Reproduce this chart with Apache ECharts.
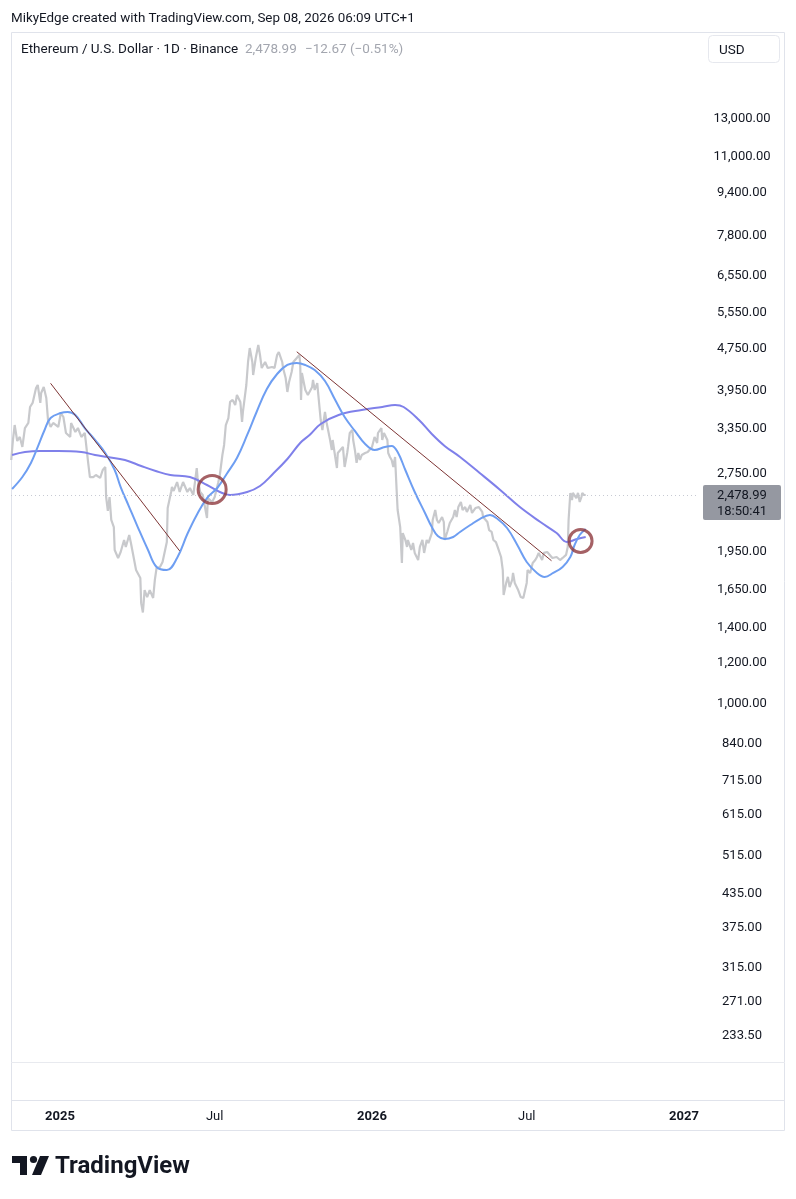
<!DOCTYPE html>
<html><head><meta charset="utf-8">
<script src="https://cdn.jsdelivr.net/npm/echarts@6/dist/echarts.min.js"></script>
<style>html,body{margin:0;padding:0;background:#fff}#c{width:796px;height:1199px}</style>
</head><body><div id="c"></div><script>
const priceDates = ['2024-11-05','2024-11-07','2024-11-09','2024-11-12','2024-11-15','2024-11-18','2024-11-21','2024-11-25','2024-11-27','2024-11-30','2024-12-04','2024-12-06','2024-12-09','2024-12-10','2024-12-13','2024-12-16','2024-12-18','2024-12-21','2024-12-24','2024-12-30','2025-01-02','2025-01-05','2025-01-08','2025-01-13','2025-01-14','2025-01-19','2025-01-22','2025-01-26','2025-01-30','2025-01-31','2025-02-03','2025-02-05','2025-02-09','2025-02-12','2025-02-17','2025-02-20','2025-02-23','2025-02-24','2025-02-26','2025-02-28','2025-03-02','2025-03-05','2025-03-06','2025-03-10','2025-03-13','2025-03-17','2025-03-19','2025-03-23','2025-03-25','2025-03-27','2025-03-31','2025-04-05','2025-04-06','2025-04-08','2025-04-10','2025-04-13','2025-04-16','2025-04-20','2025-04-22','2025-04-24','2025-04-28','2025-05-01','2025-05-06','2025-05-07','2025-05-11','2025-05-12','2025-05-14','2025-05-18','2025-05-21','2025-05-25','2025-05-30','2025-06-02','2025-06-06','2025-06-10','2025-06-11','2025-06-14','2025-06-17','2025-06-22','2025-06-23','2025-06-28','2025-07-01','2025-07-05','2025-07-07','2025-07-10','2025-07-12','2025-07-14','2025-07-17','2025-07-19','2025-07-22','2025-07-25','2025-07-27','2025-07-31','2025-08-02','2025-08-03','2025-08-07','2025-08-09','2025-08-11','2025-08-14','2025-08-15','2025-08-18','2025-08-21','2025-08-23','2025-08-25','2025-08-29','2025-09-01','2025-09-06','2025-09-09','2025-09-12','2025-09-14','2025-09-18','2025-09-19','2025-09-22','2025-09-24','2025-09-26','2025-09-29','2025-10-01','2025-10-05','2025-10-08','2025-10-09','2025-10-10','2025-10-11','2025-10-15','2025-10-18','2025-10-23','2025-10-24','2025-10-26','2025-10-29','2025-10-30','2025-11-02','2025-11-04','2025-11-07','2025-11-09','2025-11-13','2025-11-15','2025-11-16','2025-11-19','2025-11-21','2025-11-22','2025-11-25','2025-11-28','2025-11-30','2025-12-03','2025-12-04','2025-12-06','2025-12-09','2025-12-10','2025-12-12','2025-12-14','2025-12-16','2025-12-18','2025-12-20','2025-12-24','2025-12-27','2026-01-01','2026-01-04','2026-01-07','2026-01-08','2026-01-12','2026-01-13','2026-01-15','2026-01-19','2026-01-20','2026-01-22','2026-01-24','2026-01-26','2026-01-28','2026-01-30','2026-01-31','2026-02-03','2026-02-05','2026-02-06','2026-02-09','2026-02-11','2026-02-12','2026-02-16','2026-02-18','2026-02-20','2026-02-24','2026-02-26','2026-03-01','2026-03-03','2026-03-06','2026-03-08','2026-03-12','2026-03-13','2026-03-16','2026-03-18','2026-03-20','2026-03-24','2026-03-26','2026-03-27','2026-03-30','2026-04-02','2026-04-06','2026-04-08','2026-04-10','2026-04-12','2026-04-15','2026-04-17','2026-04-20','2026-04-22','2026-04-26','2026-04-28','2026-05-02','2026-05-04','2026-05-06','2026-05-10','2026-05-11','2026-05-16','2026-05-18','2026-05-21','2026-05-23','2026-05-26','2026-05-28','2026-06-01','2026-06-03','2026-06-04','2026-06-07','2026-06-09','2026-06-11','2026-06-14','2026-06-15','2026-06-17','2026-06-21','2026-06-24','2026-06-27','2026-06-29','2026-07-01','2026-07-02','2026-07-05','2026-07-08','2026-07-11','2026-07-13','2026-07-15','2026-07-19','2026-07-21','2026-07-25','2026-07-27','2026-07-31','2026-08-02','2026-08-05','2026-08-09','2026-08-12','2026-08-16','2026-08-18','2026-08-19','2026-08-21','2026-08-23','2026-08-24','2026-08-28','2026-08-30','2026-09-01','2026-09-03','2026-09-04','2026-09-06','2026-09-07','2026-09-08'];
const priceValues = [2890,3155,3369,3141,3197,3060,3325,3399,3646,3711,3962,4015,3711,3877,3980,3793,3444,3340,3399,3340,3551,3489,3253,3197,3399,3267,3325,3197,3253,3155,2853,2682,2682,2706,2671,2766,2803,2457,2311,2457,2222,2154,1948,1881,1931,2035,1974,2080,2008,1931,1784,1723,1543,1481,1634,1585,1634,1578,1708,1800,1808,1848,2017,2341,2512,2567,2523,2624,2512,2624,2512,2556,2479,2790,2671,2512,2479,2241,2446,2404,2457,2612,2706,2954,3087,3369,3474,3727,3760,3678,3843,3727,3414,3567,4015,4441,4721,4441,4195,4519,4784,4579,4325,4441,4325,4344,4325,4579,4639,4441,4325,4140,3894,4067,4250,4441,4519,4579,4422,3760,4232,3928,3843,3980,4104,3928,4050,3877,3444,3296,3567,3399,3155,3020,3155,2928,2790,2980,3020,3060,2803,2980,3060,3253,3296,3155,3020,2853,2980,2890,2954,2980,2993,3060,3197,3114,3253,3325,3155,3253,3155,2980,2928,2890,2803,2928,2501,2321,2154,1840,2098,2035,1974,2035,1948,2008,1923,1864,1974,2035,1923,2035,2008,2098,2222,2321,2222,2193,2251,2202,2035,2108,2193,2251,2321,2251,2351,2404,2321,2351,2301,2372,2291,2341,2321,2351,2301,2251,2202,2126,2108,2035,2017,1974,1889,1784,1599,1686,1731,1656,1708,1761,1686,1634,1585,1578,1585,1686,1784,1761,1840,1864,1889,1923,1864,1923,1931,1923,1881,1881,1889,1864,1881,1906,1974,2222,2501,2425,2501,2446,2501,2404,2457,2501,2479,2490,2478.99];

const fastMaDates = ['2024-11-06','2024-11-18','2024-11-28','2024-12-06','2024-12-14','2024-12-21','2025-01-02','2025-01-10','2025-01-19','2025-01-30','2025-02-11','2025-02-23','2025-03-06','2025-03-13','2025-03-22','2025-04-02','2025-04-14','2025-04-24','2025-05-06','2025-05-18','2025-05-30','2025-06-10','2025-06-22','2025-07-04','2025-07-15','2025-07-27','2025-08-08','2025-08-19','2025-08-31','2025-09-12','2025-09-24','2025-10-05','2025-10-15','2025-10-26','2025-11-07','2025-11-19','2025-11-30','2025-12-12','2025-12-24','2026-01-04','2026-01-16','2026-01-24','2026-01-31','2026-02-09','2026-02-20','2026-03-04','2026-03-12','2026-03-19','2026-03-27','2026-04-06','2026-04-14','2026-04-26','2026-05-07','2026-05-19','2026-05-28','2026-06-08','2026-06-20','2026-07-01','2026-07-13','2026-07-22','2026-08-01','2026-08-12','2026-08-21','2026-08-26','2026-09-01','2026-09-08'];
const fastMaValues = [2545,2682,2853,3060,3296,3474,3551,3567,3520,3325,3155,2980,2766,2567,2372,2154,1948,1808,1784,1881,2089,2271,2446,2556,2718,2915,3225,3567,3945,4213,4383,4422,4383,4287,4086,3760,3489,3282,3100,3020,3060,3074,2993,2766,2512,2291,2154,2071,2044,2062,2108,2173,2231,2271,2231,2145,1991,1848,1761,1731,1761,1808,1889,1991,2080,2136];

const slowMaDates = ['2024-11-06','2024-11-21','2024-12-09','2024-12-30','2025-01-26','2025-02-11','2025-02-26','2025-03-18','2025-04-06','2025-04-23','2025-05-10','2025-06-02','2025-06-22','2025-07-07','2025-07-19','2025-08-08','2025-08-23','2025-09-07','2025-09-24','2025-10-09','2025-10-20','2025-11-02','2025-11-23','2025-12-20','2026-01-13','2026-01-28','2026-02-07','2026-02-25','2026-03-12','2026-03-27','2026-04-14','2026-05-07','2026-05-31','2026-06-23','2026-07-17','2026-08-05','2026-08-17','2026-08-29','2026-09-08'];
const slowMaValues = [2954,2993,3007,3007,2993,2954,2928,2890,2815,2754,2706,2682,2590,2512,2479,2512,2579,2718,2903,3114,3225,3384,3520,3598,3646,3678,3646,3444,3239,3074,2928,2730,2534,2351,2202,2098,2017,2044,2062];

const trend1Dates = ['2024-12-21','2025-05-21'];
const trend1Values = [4045,1940];
const trend2Dates = ['2025-10-05','2026-07-30'];
const trend2Values = [4645,1858];
const circleDates = ['2025-06-28','2026-09-02'];
const circleValues = [2540,2026];

const priceTicks = [13000,11000,9400,7800,6550,5550,4750,3950,3350,2750,1950,1650,1400,1200,1000,840,715,615,515,435,375,315,271,233.5];
const timeTicks = ['2025-01-01','2025-07-01','2026-01-01','2026-07-01','2027-01-01'];
const timeTickLabels = ['2025','Jul','2026','Jul','2027'];
const lastPrice = 2478.99;
const lastChange = '\u221212.67 (\u22120.51%)';
const countdown = '18:50:41';

const ts = s => new Date(s + 'T00:00:00').getTime();
const fmt = v => Number(v).toLocaleString('en-US', {minimumFractionDigits: 2, maximumFractionDigits: 2});
const zip = (d, v) => d.map((x, i) => [ts(x), v[i]]);

const FONT = 'Roboto, "Open Sans", sans-serif';
const chart = echarts.init(document.getElementById('c'), null, {renderer: 'canvas'});

const tickTs = timeTicks.map(ts);
const option = {
  animation: false,
  backgroundColor: '#ffffff',
  grid: {left: 11, top: 32, width: 686, height: 1030, containLabel: false},
  xAxis: {
    type: 'value',
    min: ts('2024-11-04') + 17 * 3600e3,
    max: ts('2027-01-16') + 5 * 3600e3,
    axisLine: {show: false}, axisTick: {show: false}, splitLine: {show: false},
    axisLabel: {
      customValues: tickTs,
      margin: 48,
      formatter: function (v) {
        let best = 0, bd = Infinity;
        tickTs.forEach((t, i) => { const d = Math.abs(t - v); if (d < bd) { bd = d; best = i; } });
        const s = timeTickLabels[best];
        return /^\d+$/.test(s) ? '{y|' + s + '}' : '{m|' + s + '}';
      },
      rich: {
        y: {fontSize: 13, fontWeight: 'bold', color: '#131722', fontFamily: FONT},
        m: {fontSize: 13, color: '#131722', fontFamily: FONT}
      }
    }
  },
  yAxis: {
    type: 'log', logBase: 10, position: 'right',
    min: 206.4, max: 18870,
    axisLine: {show: false}, axisTick: {show: false}, splitLine: {show: false},
    axisLabel: {
      customValues: priceTicks,
      formatter: v => '{p|' + fmt(v) + '}',
      margin: 45, align: 'center',
      rich: {p: {color: '#131722', fontSize: 13, fontFamily: FONT, padding: [4, 0, 0, 0]}}
    }
  },
  series: [
    {
      name: 'price', type: 'line', data: zip(priceDates, priceValues),
      showSymbol: false, symbol: 'none',
      lineStyle: {color: '#c8c9cc', width: 2.2}, z: 2,
      markLine: {
        silent: true, symbol: 'none', label: {show: false},
        lineStyle: {color: '#c7cad3', type: [1, 3], width: 1},
        data: [{yAxis: lastPrice}]
      }
    },
    {
      name: 'slow', type: 'line', data: zip(slowMaDates, slowMaValues), smooth: 0.4,
      showSymbol: false, symbol: 'none', lineStyle: {color: '#7f80ea', width: 2}, z: 3
    },
    {
      name: 'fast', type: 'line', data: zip(fastMaDates, fastMaValues), smooth: 0.4,
      showSymbol: false, symbol: 'none', lineStyle: {color: '#6e9ef2', width: 2}, z: 4
    },
    {
      name: 'trend1', type: 'line', data: zip(trend1Dates, trend1Values),
      showSymbol: false, symbol: 'none', lineStyle: {color: '#7d3434', width: 1}, z: 5
    },
    {
      name: 'trend2', type: 'line', data: zip(trend2Dates, trend2Values),
      showSymbol: false, symbol: 'none', lineStyle: {color: '#7d3434', width: 1}, z: 5
    },
    {
      name: 'circles', type: 'scatter', data: zip(circleDates, circleValues),
      symbol: 'circle', symbolSize: (v, p) => p.dataIndex === 0 ? 28 : 23,
      itemStyle: {color: 'rgba(0,0,0,0)', borderColor: '#8e3a3f', borderWidth: 3}, z: 6
    }
  ]
};
chart.setOption(option);

const py = chart.convertToPixel({yAxisIndex: 0}, lastPrice);
const graphic = [
  {type: 'text', x: 11, y: 19, style: {text: 'MikyEdge created with TradingView.com, Sep 08, 2026 06:09 UTC+1', fill: '#131722', font: '13.4px ' + FONT, verticalAlign: 'middle'}},
  {type: 'rect', shape: {x: 11.5, y: 32.5, width: 773, height: 1098}, style: {fill: 'none', stroke: '#e0e3eb', lineWidth: 1}, silent: true},
  {type: 'line', shape: {x1: 11, y1: 1062.5, x2: 785, y2: 1062.5}, style: {stroke: '#e8eaef', lineWidth: 1}},
  {type: 'line', shape: {x1: 11, y1: 1100.5, x2: 785, y2: 1100.5}, style: {stroke: '#e0e3eb', lineWidth: 1}},
  {type: 'text', x: 21, y: 50, style: {text: 'Ethereum / U.S. Dollar \u00b7 1D \u00b7 Binance', fill: '#131722', font: '13.5px ' + FONT, verticalAlign: 'middle'}},
  {type: 'text', x: 245, y: 50, style: {text: fmt(lastPrice), fill: '#a3a6af', font: '13.5px ' + FONT, verticalAlign: 'middle'}},
  {type: 'text', x: 305, y: 50, style: {text: lastChange, fill: '#a3a6af', font: '13.5px ' + FONT, verticalAlign: 'middle'}},
  {type: 'rect', shape: {x: 708.5, y: 35.5, width: 71, height: 27, r: 4}, style: {fill: '#fff', stroke: '#e6e8ee', lineWidth: 1}},
  {type: 'text', x: 719, y: 51, style: {text: 'USD', fill: '#131722', font: '13.5px ' + FONT, verticalAlign: 'middle'}},
  {type: 'rect', shape: {x: 703, y: py - 10, width: 78, height: 35, r: 2}, style: {fill: '#9598a1'}},
  {type: 'text', x: 742, y: py + 1, style: {text: fmt(lastPrice), fill: '#131722', font: '13px ' + FONT, align: 'center', verticalAlign: 'middle'}},
  {type: 'text', x: 742, y: py + 17, style: {text: countdown, fill: '#131722', font: '13px ' + FONT, align: 'center', verticalAlign: 'middle'}},
  {type: 'rect', shape: {x: 12, y: 1156, width: 15, height: 7}, style: {fill: '#131722'}},
  {type: 'rect', shape: {x: 20, y: 1156, width: 7, height: 19}, style: {fill: '#131722'}},
  {type: 'circle', shape: {cx: 33.5, cy: 1159.5, r: 3.6}, style: {fill: '#131722'}},
  {type: 'polygon', shape: {points: [[40, 1156], [49, 1156], [41, 1175], [32, 1175]]}, style: {fill: '#131722'}},
  {type: 'text', x: 55, y: 1167, style: {text: 'TradingView', fill: '#131722', font: 'bold 24px ' + FONT, verticalAlign: 'middle'}}
];
chart.setOption({graphic: graphic});
</script></body></html>
